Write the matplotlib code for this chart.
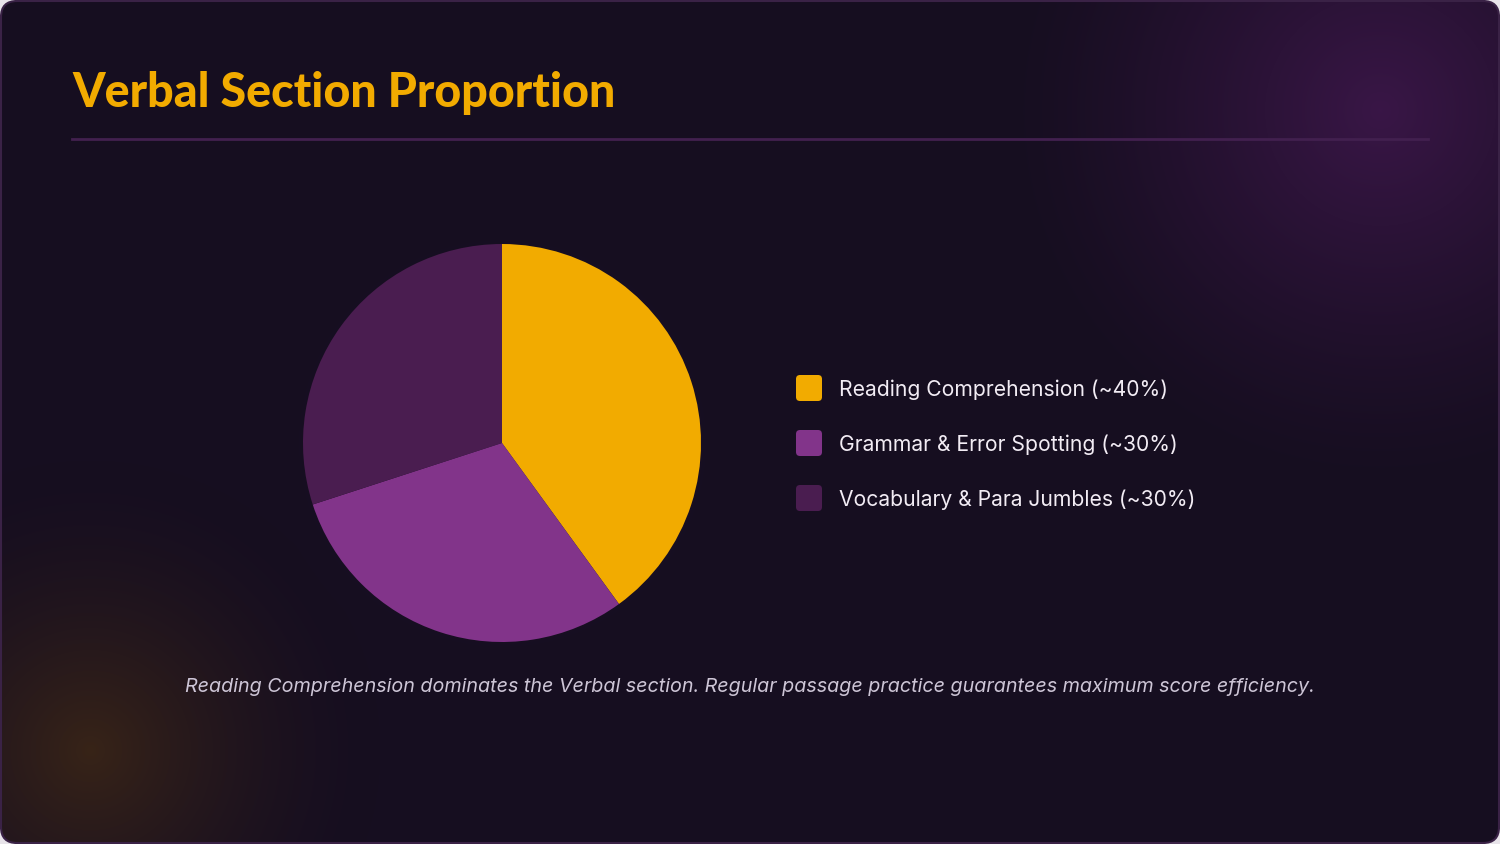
import numpy as np
import matplotlib
matplotlib.use('Agg')
import matplotlib.pyplot as plt
from matplotlib.patches import FancyBboxPatch

# chart data
labels = ['Reading Comprehension (~40%)', 'Grammar & Error Spotting (~30%)', 'Vocabulary & Para Jumbles (~30%)']
shares = [40, 30, 30]
colors = ['#F2AB00', '#82348A', '#4A1D50']

title = 'Verbal Section Proportion'
caption = ('Reading Comprehension dominates the Verbal section. '
           'Regular passage practice guarantees maximum score efficiency.')

W, H = 1500, 844
fig = plt.figure(figsize=(W / 100, H / 100), dpi=100)
fig.patch.set_facecolor('#e8e4ea')

# background with soft glows
bg = fig.add_axes([0, 0, 1, 1])
bg.set_xlim(0, W)
bg.set_ylim(H, 0)
bg.axis('off')
yy, xx = np.mgrid[0:H, 0:W]
base = np.array([22, 14, 32], dtype=float) / 255
img = np.ones((H, W, 3)) * base

def glow(cx, cy, r, col, strength, p=1.6):
    d = np.sqrt((xx - cx) ** 2 + (yy - cy) ** 2) / r
    a = np.clip(1 - d, 0, 1) ** p * strength
    c = np.array(col, dtype=float) / 255
    return a[..., None] * (c - base)

img += glow(1380, 110, 380, (66, 24, 80), 0.8, 1.3)
img += glow(90, 750, 290, (70, 45, 20), 0.7)
img += glow(502, 443, 230, (75, 30, 95), 0.5)
img = np.clip(img, 0, 1)

panel = FancyBboxPatch((1, 1), W - 2, H - 2, boxstyle='round,pad=0,rounding_size=16',
                       facecolor='none', edgecolor='#3a2246', linewidth=1.5, zorder=3)
bg.add_patch(panel)
im = bg.imshow(img, extent=(0, W, H, 0), zorder=1)
im.set_clip_path(panel)

# title + rule
bg.text(72, 107, title, fontsize=33.5, fontweight='black', family='Lato',
        color='#F2AB00', va='baseline', ha='left', zorder=4)
bg.plot([72, 1428], [139, 139], color='#42204f', linewidth=2, zorder=4)

# pie
cx, cy, r = 502, 443, 199
ax = fig.add_axes([(cx - r) / W, (H - cy - r) / H, 2 * r / W, 2 * r / H])
ax.pie(shares, colors=colors, startangle=90, counterclock=False,
       wedgeprops=dict(linewidth=0))
ax.set_xlim(-1, 1)
ax.set_ylim(-1, 1)
ax.set_aspect('equal')
ax.axis('off')

# legend
for i, (lab, col) in enumerate(zip(labels, colors)):
    y = 388 + i * 55
    bg.add_patch(FancyBboxPatch((796, y - 13), 26, 26,
                                boxstyle='round,pad=0,rounding_size=4',
                                facecolor=col, edgecolor='none', zorder=4))
    bg.text(839, y + 2, lab, fontsize=15.2, family='Inter', color='#f2ecf4',
            va='center', ha='left', zorder=4)

# caption
bg.text(750, 687, caption, fontsize=14.2, family='Inter', style='italic',
        color='#cdc5d6', va='center', ha='center', zorder=4)

fig.savefig('out.png', dpi=100, facecolor=fig.get_facecolor())
